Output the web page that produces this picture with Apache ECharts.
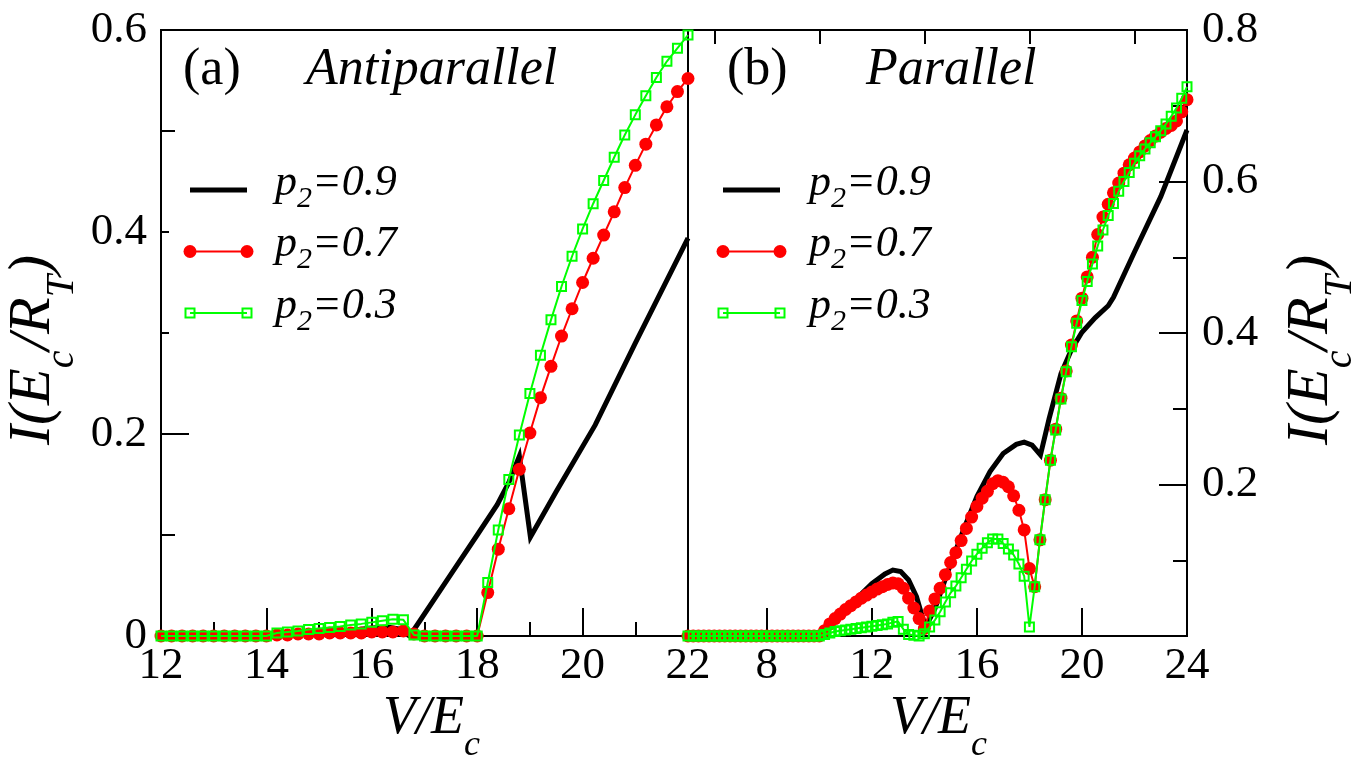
<!DOCTYPE html>
<html>
<head>
<meta charset="utf-8">
<script src="https://cdn.jsdelivr.net/npm/echarts@6/dist/echarts.min.js"></script>
<style>
  html, body { margin: 0; padding: 0; background: #fff; }
  #chart { width: 1357px; height: 763px; }
</style>
</head>
<body>
<div id="chart"></div>
<script>
// ---------- (a) Antiparallel : V/Ec grid and currents ----------
const antiV = [12, 12.2, 12.4, 12.6, 12.8, 13, 13.2, 13.4, 13.6, 13.8, 14, 14.2, 14.4, 14.6, 14.8, 15, 15.2, 15.4, 15.6, 15.8,
  16, 16.2, 16.4, 16.6, 16.8, 17, 17.2, 17.4, 17.6, 17.8, 18, 18.2, 18.4, 18.6, 18.8, 19, 19.2, 19.4, 19.6, 19.8,
  20, 20.2, 20.4, 20.6, 20.8, 21, 21.2, 21.4, 21.6, 21.8, 22];
const antiP07 = [0, 0, 0, 0, 0, 0, 0, 0, 0, 0, 0,
  0.001, 0.001, 0.002, 0.002, 0.002, 0.003, 0.003, 0.003, 0.003, 0.004, 0.004, 0.004, 0.005, 0.002,
  0, 0, 0, 0, 0, 0,
  0.043, 0.086, 0.126, 0.165, 0.201, 0.236, 0.267, 0.297, 0.324, 0.350, 0.374, 0.397, 0.420, 0.444,
  0.466, 0.487, 0.506, 0.524, 0.539, 0.552];
const antiP03 = [0, 0, 0, 0, 0, 0, 0, 0, 0, 0, 0,
  0.003, 0.004, 0.005, 0.0065, 0.0075, 0.0085, 0.0095, 0.011, 0.012, 0.0135, 0.015, 0.0165, 0.016, 0.001,
  0, 0, 0, 0, 0, 0,
  0.053, 0.105, 0.155, 0.199, 0.240, 0.278, 0.313, 0.346, 0.376, 0.403, 0.428, 0.451, 0.474, 0.496,
  0.516, 0.535, 0.553, 0.569, 0.582, 0.595];
const antiP09V = [12, 14, 14.5, 15, 15.5, 16, 16.3, 16.5, 16.72, 17.5, 18, 18.38, 18.6, 18.8, 19.01, 19.5, 20.24, 21, 22];
const antiP09 = [0, 0, 0.001, 0.003, 0.005, 0.008, 0.009, 0.007, 0, 0.061, 0.100, 0.130, 0.152, 0.178, 0.098, 0.143, 0.209, 0.290, 0.394];

// ---------- (b) Parallel ----------
const paraV = [5, 5.2, 5.4, 5.6, 5.8, 6, 6.2, 6.4, 6.6, 6.8, 7, 7.2, 7.4, 7.6, 7.8, 8, 8.2, 8.4, 8.6, 8.8,
  9, 9.2, 9.4, 9.6, 9.8, 10,
  10.2, 10.4, 10.6, 10.8, 11, 11.2, 11.4, 11.6, 11.8, 12, 12.2, 12.4, 12.6, 12.8, 13, 13.2, 13.4, 13.6, 13.8, 14,
  14.2, 14.4, 14.6, 14.8, 15, 15.2, 15.4, 15.6, 15.8, 16, 16.2, 16.4, 16.6, 16.8, 17, 17.2, 17.4, 17.6, 17.8, 18,
  18.2, 18.4, 18.6, 18.8,
  19, 19.2, 19.4, 19.6, 19.8, 20, 20.2, 20.4, 20.6, 20.8, 21, 21.2, 21.4, 21.6, 21.8, 22, 22.2, 22.4, 22.6, 22.8,
  23, 23.2, 23.4, 23.6, 23.8, 24];
const paraP07 = [0, 0, 0, 0, 0, 0, 0, 0, 0, 0, 0, 0, 0, 0, 0, 0, 0, 0, 0, 0, 0, 0, 0, 0, 0, 0,
  0.007, 0.016, 0.023, 0.029, 0.035, 0.040, 0.045, 0.050, 0.054, 0.058, 0.062, 0.065, 0.068, 0.070, 0.069, 0.063,
  0.050, 0.037, 0.023, 0.010,
  0.033, 0.049, 0.063, 0.081, 0.097, 0.110, 0.126, 0.142, 0.157, 0.171, 0.182, 0.191, 0.201, 0.205, 0.203, 0.197,
  0.185, 0.166, 0.140, 0.089, 0.065, 0.127, 0.180, 0.232,
  0.273, 0.314, 0.350, 0.384, 0.416, 0.446, 0.474, 0.500, 0.530, 0.553, 0.570, 0.585, 0.598, 0.611, 0.622, 0.631,
  0.639, 0.647, 0.654, 0.660, 0.665, 0.670, 0.674, 0.680, 0.692, 0.708];
const paraP03 = [0, 0, 0, 0, 0, 0, 0, 0, 0, 0, 0, 0, 0, 0, 0, 0, 0, 0, 0, 0, 0, 0, 0, 0, 0, 0,
  0.002, 0.004, 0.006, 0.007, 0.008, 0.009, 0.010, 0.011, 0.012, 0.013, 0.014, 0.015, 0.016, 0.018, 0.019, 0.009,
  0.002, 0.001, 0, 0.003,
  0.012, 0.021, 0.032, 0.045, 0.057, 0.066, 0.077, 0.088, 0.099, 0.108, 0.116, 0.123, 0.128, 0.128, 0.122, 0.115,
  0.107, 0.095, 0.079, 0.012, 0.065, 0.127, 0.180, 0.232,
  0.272, 0.313, 0.349, 0.382, 0.413, 0.443, 0.468, 0.491, 0.515, 0.536, 0.555, 0.571, 0.587, 0.600, 0.612, 0.624,
  0.634, 0.643, 0.651, 0.659, 0.667, 0.676, 0.686, 0.697, 0.710, 0.725];
const paraP09V = [5, 10, 10.3, 10.6, 11, 11.5, 12, 12.5, 12.8, 13.1, 13.4, 13.7, 13.9, 14.05, 14.4, 15, 15.5, 16, 16.5,
  17, 17.5, 17.8, 18.1, 18.42, 18.75, 19.2, 19.6, 20, 20.5, 21, 21.2, 22, 23, 24];
const paraP09 = [0, 0, 0.008, 0.020, 0.034, 0.052, 0.069, 0.082, 0.087, 0.085, 0.074, 0.052, 0.028, 0.012, 0.036, 0.095,
  0.141, 0.184, 0.217, 0.241, 0.253, 0.256, 0.252, 0.239, 0.287, 0.346, 0.378, 0.401, 0.420, 0.436, 0.447, 0.507,
  0.580, 0.668];

// ---------- axis ticks ----------
const antiYTicks = [0, 0.2, 0.4, 0.6];
const paraYTicks = [0.2, 0.4, 0.6, 0.8];
const paraXMajor = [8, 12, 16, 20, 24];
const paraXMinor = [6, 10, 14, 18, 22];
const legendLabels = ['0.9', '0.7', '0.3'];

const FONT = '"Liberation Serif", "Times New Roman", Times, serif';
const BLACK = '#000000', RED = '#ff0000', GREEN = '#00ff00';

const zip = (xs, ys) => xs.map((x, i) => [x, ys[i]]);

// text measuring for hand-placed titles with subscripts
const mctx = document.createElement('canvas').getContext('2d');
function fontStr(size, italic) { return (italic ? 'italic ' : '') + size + 'px ' + FONT; }
function measure(t, size, italic) { mctx.font = fontStr(size, italic); return mctx.measureText(t).width; }
const MID = 0.34; // canvas "middle" sits this many em above the baseline

// parts: [text, size, italic, baselineShift]; returns text elements laid along x starting at x0
function runs(parts, x0, base, z) {
  let x = x0;
  const out = [];
  parts.forEach(([t, size, it, dy]) => {
    out.push({
      type: 'text', x: x, y: base + dy - MID * size, z: z || 20,
      style: { text: t, font: fontStr(size, it), fill: BLACK,
        align: 'left', textAlign: 'left', verticalAlign: 'middle', textVerticalAlign: 'middle' }
    });
    x += measure(t, size, it);
  });
  return out;
}
function width(parts) { return parts.reduce((s, [t, size, it]) => s + measure(t, size, it), 0); }

// vertical title reading bottom to top, centred at cy, baseline at screen x = bx
function vertTitle(parts, bx, cy) {
  const w = width(parts);
  return { type: 'group', x: bx, y: cy, rotation: Math.PI / 2, z: 20, children: runs(parts, -w / 2, 0) };
}

const yTitle = [['I', 60, true, 0], ['(', 60, true, 0], ['E', 60, true, 0], ['c', 40, true, 22],
  ['/', 60, true, 0], ['R', 60, true, 0], ['T', 40, true, 22], [')', 60, true, 0]];
const xTitle = [['V/E', 54, true, 0], ['c', 36, true, 21]];

function legendBlock(x1, x2, tx, ys) {
  const els = [];
  // p2 = 0.9 : thick black line
  els.push({ type: 'line', z: 20, shape: { x1: x1, y1: ys[0], x2: x2, y2: ys[0] }, style: { stroke: BLACK, lineWidth: 5 } });
  // p2 = 0.7 : red line with filled circles
  els.push({ type: 'line', z: 20, shape: { x1: x1, y1: ys[1], x2: x2, y2: ys[1] }, style: { stroke: RED, lineWidth: 2 } });
  [x1, x2].forEach(x => els.push({ type: 'circle', z: 21, shape: { cx: x, cy: ys[1], r: 6.5 }, style: { fill: RED } }));
  // p2 = 0.3 : green line with open squares
  els.push({ type: 'line', z: 20, shape: { x1: x1, y1: ys[2], x2: x2, y2: ys[2] }, style: { stroke: GREEN, lineWidth: 2 } });
  [x1, x2].forEach(x => els.push({ type: 'rect', z: 21, shape: { x: x - 4.5, y: ys[2] - 4.5, width: 9, height: 9 },
    style: { fill: 'none', stroke: GREEN, lineWidth: 2 } }));
  legendLabels.forEach((lab, i) => {
    els.push(...runs([['p', 44, true, 0], ['2', 30, true, 11], ['=' + lab, 44, true, 0]], tx, ys[i] + 8));
  });
  return els;
}

const legendRows = [190, 251.5, 313];

const graphics = [
  // blank legend box of panel (a)
  { type: 'rect', z: 5, shape: { x: 169, y: 150, width: 255, height: 190 }, style: { fill: '#ffffff' } },
  ...legendBlock(190, 247, 275, legendRows),
  ...legendBlock(723, 780, 809, legendRows),
  ...runs([['(a)', 52, false, 0]], 183, 88),
  ...runs([['Antiparallel', 52, true, 0]], 306, 88),
  ...runs([['(b)', 52, false, 0]], 727, 88),
  ...runs([['Parallel', 52, true, 0]], 866, 88),
  ...runs(xTitle, 383, 737),
  ...runs(xTitle, 890, 737),
  vertTitle(yTitle, 54, 350),
  vertTitle(yTitle, 1332, 350)
];

const axisLine = { show: true, lineStyle: { color: BLACK, width: 2 } };
const tickStyle = { color: BLACK, width: 2 };
const labelStyle = { fontFamily: FONT, fontSize: 45, color: BLACK };

const lineSeries = (name, xi, data, kind) => {
  const s = {
    name: name, type: 'line', xAxisIndex: xi, yAxisIndex: xi === 0 ? 0 : 1,
    data: data, clip: false, animation: false, showAllSymbol: true,
    emphasis: { disabled: true }, silent: true
  };
  if (kind === 'black') {
    Object.assign(s, { showSymbol: false, symbol: 'none', z: 2,
      lineStyle: { color: BLACK, width: 5, join: 'miter' } });
  } else if (kind === 'red') {
    Object.assign(s, { symbol: 'circle', symbolSize: 13, z: 3,
      itemStyle: { color: RED }, lineStyle: { color: RED, width: 2 } });
  } else {
    Object.assign(s, { symbol: 'rect', symbolSize: 9, z: 4,
      itemStyle: { color: 'rgba(255,255,255,0)', borderColor: GREEN, borderWidth: 2 },
      lineStyle: { color: GREEN, width: 2 } });
  }
  return s;
};

const option = {
  animation: false,
  backgroundColor: '#ffffff',
  grid: [
    { left: 161, top: 30, width: 527, height: 606, show: true, borderColor: BLACK, borderWidth: 2, backgroundColor: 'transparent' },
    { left: 688, top: 30, width: 499, height: 606, show: true, borderColor: BLACK, borderWidth: 2, backgroundColor: 'transparent' }
  ],
  xAxis: [
    { gridIndex: 0, type: 'value', min: 12, max: 22, interval: 2,
      axisLine: axisLine,
      axisTick: { show: true, inside: true, length: 28, lineStyle: tickStyle },
      minorTick: { show: true, splitNumber: 2, length: 14, lineStyle: tickStyle },
      splitLine: { show: false }, minorSplitLine: { show: false },
      axisLabel: Object.assign({ margin: 8 }, labelStyle) },
    { gridIndex: 1, type: 'value', min: 5, max: 24,
      axisLine: axisLine,
      axisTick: { show: true, inside: true, length: 28, lineStyle: tickStyle, customValues: paraXMajor },
      splitLine: { show: false },
      axisLabel: Object.assign({ margin: 8, customValues: paraXMajor }, labelStyle) },
    { gridIndex: 1, type: 'value', min: 5, max: 24,
      axisLine: { show: false },
      axisTick: { show: true, inside: true, length: 14, lineStyle: tickStyle, customValues: paraXMinor },
      splitLine: { show: false },
      axisLabel: { show: false } }
  ],
  yAxis: [
    { gridIndex: 0, type: 'value', min: 0, max: 0.6, interval: 0.2,
      axisLine: axisLine,
      axisTick: { show: true, inside: true, length: 28, lineStyle: tickStyle },
      minorTick: { show: true, splitNumber: 2, length: 14, lineStyle: tickStyle },
      splitLine: { show: false }, minorSplitLine: { show: false },
      axisLabel: Object.assign({ margin: 14, formatter: v => antiYTicks.includes(+v.toFixed(2)) ? String(+v.toFixed(2)) : '' }, labelStyle) },
    { gridIndex: 1, type: 'value', position: 'right', min: 0, max: 0.8, interval: 0.2,
      axisLine: axisLine,
      axisTick: { show: true, inside: true, length: 28, lineStyle: tickStyle },
      minorTick: { show: true, splitNumber: 2, length: 14, lineStyle: tickStyle },
      splitLine: { show: false }, minorSplitLine: { show: false },
      axisLabel: Object.assign({ margin: 15, formatter: v => paraYTicks.includes(+v.toFixed(2)) ? String(+v.toFixed(2)) : '' }, labelStyle) }
  ],
  series: [
    lineSeries('p2=0.9', 0, zip(antiP09V, antiP09), 'black'),
    lineSeries('p2=0.7', 0, zip(antiV, antiP07), 'red'),
    lineSeries('p2=0.3', 0, zip(antiV, antiP03), 'green'),
    lineSeries('p2=0.9', 1, zip(paraP09V, paraP09), 'black'),
    lineSeries('p2=0.7', 1, zip(paraV, paraP07), 'red'),
    lineSeries('p2=0.3', 1, zip(paraV, paraP03), 'green')
  ],
  graphic: graphics
};

const chart = echarts.init(document.getElementById('chart'), null, { renderer: 'canvas' });
chart.setOption(option);
</script>
</body>
</html>
